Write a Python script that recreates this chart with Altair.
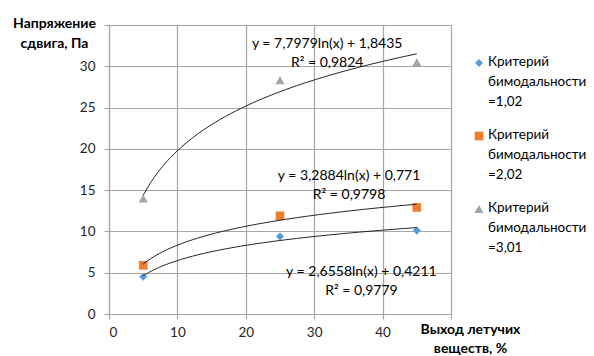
import altair as alt
import pandas as pd

# ---- data ----
x_vals = [5, 25, 45]
series_names = [
    "Критерий бимодальности =1,02",
    "Критерий бимодальности =2,02",
    "Критерий бимодальности =3,01",
]
s1 = [4.5, 9.4, 10.1]
s2 = [5.9, 11.9, 12.9]
s3 = [14.0, 28.3, 30.5]

colors = ["#5B9BD5", "#ED7D31", "#A5A5A5"]
shapes = ["diamond", "square", "triangle-up"]
sizes = [65, 85, 75]

eq_texts = [
    "y = 7,7979ln(x) + 1,8435\nR² = 0,9824",
    "y = 3,2884ln(x) + 0,771\nR² = 0,9798",
    "y = 2,6558ln(x) + 0,4211\nR² = 0,9779",
]
eq_x = [31.9, 35.1, 36.9]
eq_y = [32.7, 16.7, 5.1]

x_ticks = [0, 10, 20, 30, 40, 50]
y_ticks = [0, 5, 10, 15, 20, 25, 30, 35]

FONT = "Lato"
GRID = "#a6a6a6"

rows = []
for name, vals in zip(series_names, [s1, s2, s3]):
    for xv, yv in zip(x_vals, vals):
        rows.append({"series": name, "x": xv, "y": yv})
df = pd.DataFrame(rows)
ann = pd.DataFrame({"x": eq_x, "y": eq_y, "text": eq_texts})

color_enc = alt.Color("series:N", scale=alt.Scale(domain=series_names, range=colors), legend=None)
shape_enc = alt.Shape("series:N", scale=alt.Scale(domain=series_names, range=shapes), legend=None)
size_enc = alt.Size("series:N", scale=alt.Scale(domain=series_names, range=sizes), legend=None)

x_enc = alt.X(
    "x:Q",
    scale=alt.Scale(domain=[0, 50], nice=False),
    axis=alt.Axis(
        values=x_ticks,
        labelExpr="datum.value == 50 ? '' : datum.label",
        title=["Выход летучих", "веществ, %"],
        titleX=361, titleY=8, titleAlign="center", titleBaseline="top",
        titleLineHeight=19, titleFontWeight="bold", titleFontSize=14,
        titleFont=FONT, titleColor="#000000",
        labelFont=FONT, labelFontSize=13.5, labelColor="#262626", labelPadding=6,
        grid=True, gridColor=GRID, gridWidth=1.2,
        domainColor=GRID, domainWidth=1.2, tickColor=GRID, tickSize=5, tickWidth=1.2,
    ),
)
y_enc = alt.Y(
    "y:Q",
    scale=alt.Scale(domain=[0, 35], nice=False),
    axis=alt.Axis(
        values=y_ticks,
        labelExpr="datum.value == 35 ? '' : datum.label",
        title=["Напряжение", "сдвига, Па"],
        titleAngle=0, titleX=-55, titleY=-9, titleAlign="center", titleBaseline="top",
        titleLineHeight=20, titleFontWeight="bold", titleFontSize=14,
        titleFont=FONT, titleColor="#000000",
        labelFont=FONT, labelFontSize=13.5, labelColor="#262626", labelPadding=9,
        grid=True, gridColor=GRID, gridWidth=1.2,
        domainColor=GRID, domainWidth=1.2, tickColor=GRID, tickSize=5, tickWidth=1.2,
    ),
)

base = alt.Chart(df)
points = base.mark_point(filled=True, opacity=1).encode(
    x=x_enc, y=y_enc, color=color_enc, shape=shape_enc, size=size_enc
)
trend = base.transform_regression(
    "x", "y", method="log", groupby=["series"]
).mark_line(color="#262626", strokeWidth=1).encode(
    x="x:Q", y="y:Q", detail="series:N"
)
labels = alt.Chart(ann).mark_text(
    font=FONT, fontSize=14, lineBreak="\n", lineHeight=19,
    align="center", baseline="middle", color="#000000"
).encode(x="x:Q", y="y:Q", text="text:N")

main = alt.layer(points, trend, labels).properties(width=342, height=289)

leg_df = pd.DataFrame({"series": series_names})
leg_y = alt.Y(
    "series:N",
    scale=alt.Scale(type="point", domain=series_names, range=[38, 184], padding=0),
    axis=None,
)
leg_pts = alt.Chart(leg_df).mark_point(filled=True, opacity=1).encode(
    x=alt.value(8), y=leg_y, color=color_enc, shape=shape_enc, size=size_enc
)
leg_txt = alt.Chart(leg_df).mark_text(
    font=FONT, fontSize=13.5, lineBreak=" ", lineHeight=20,
    align="left", baseline="top", dy=-8, color="#000000"
).encode(x=alt.value(17), y=leg_y, text="series:N")
legend = alt.layer(leg_pts, leg_txt).properties(width=110, height=289)

chart = alt.hconcat(main, legend, spacing=20, bounds="flush").properties(
    padding={"left": 12, "top": 16, "right": 0, "bottom": 0}
).configure_view(stroke=None)

chart.save("out.html", embed_options={"renderer": "svg", "actions": False})
